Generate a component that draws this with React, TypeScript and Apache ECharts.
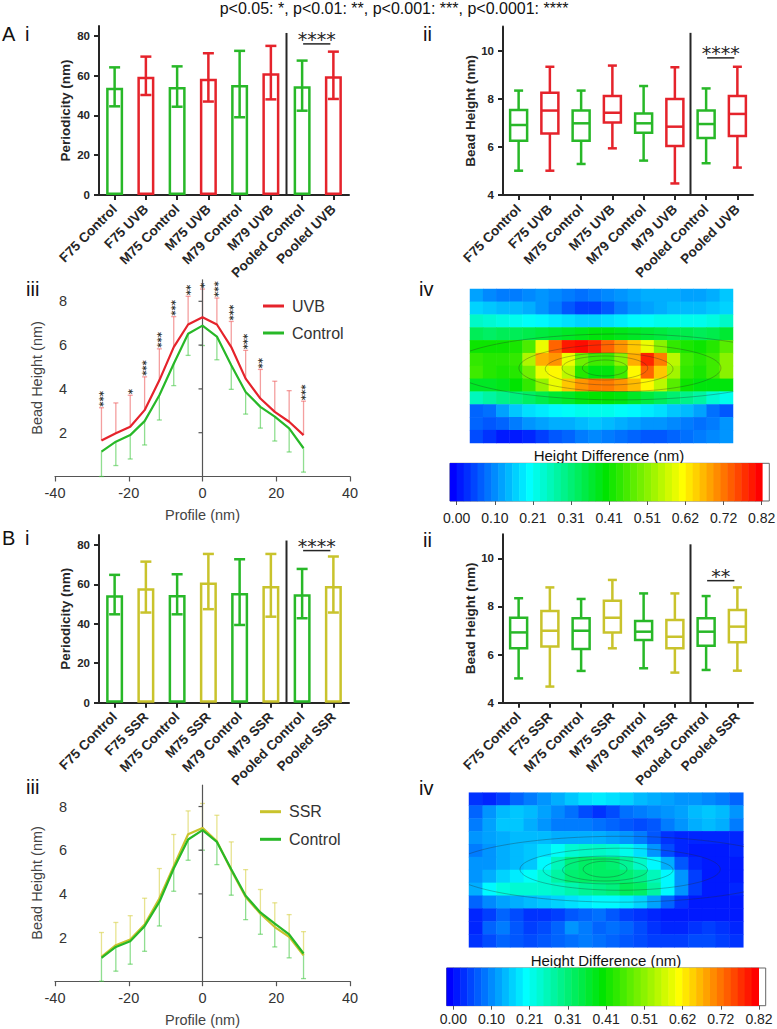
import React, { useEffect, useRef } from 'react';
import * as echarts from 'echarts';

const FONT = '"Liberation Sans", Arial, Helvetica, sans-serif';
const STAR_FONT = '"DejaVu Sans", sans-serif';
const GREEN = '#28b828';
const RED = '#e5232b';
const YELLOW = '#c9c32c';
const AXIS = '#262626';
const HEAT_COLORS = ['#0000ff', '#00ffff', '#00e400', '#ffff00', '#ff0000'];

// ---------- Panel i (periodicity bars) ----------
const uvbCats = ['F75 Control', 'F75 UVB', 'M75 Control', 'M75 UVB', 'M79 Control', 'M79 UVB', 'Pooled Control', 'Pooled UVB'];
const ssrCats = ['F75 Control', 'F75 SSR', 'M75 Control', 'M75 SSR', 'M79 Control', 'M79 SSR', 'Pooled Control', 'Pooled SSR'];
const periodTicks = [0, 20, 40, 60, 80];

const uvbPeriodMean = [54.0, 59.5, 54.3, 58.5, 55.3, 61.2, 54.7, 59.7];
const uvbPeriodHigh = [64.2, 69.6, 64.7, 71.3, 72.5, 75.0, 67.6, 72.1];
const uvbPeriodLow = [44.6, 50.3, 44.4, 47.0, 39.1, 48.1, 42.4, 48.3];

const ssrPeriodMean = [54.5, 58.0, 54.6, 60.9, 55.6, 59.2, 55.0, 59.2];
const ssrPeriodHigh = [64.8, 71.5, 65.1, 75.4, 72.7, 75.4, 67.8, 74.1];
const ssrPeriodLow = [44.8, 45.7, 44.8, 47.4, 39.4, 43.6, 42.8, 45.7];

// separator [leftCat, rightCat, topValue]; significance [fromCat, toCat, value]
const uvbPeriodSep = [5, 6, 81.5];
const uvbPeriodSig = [6, 7, 76.0];
const ssrPeriodSep = [5, 6, 82.2];
const ssrPeriodSig = [6, 7, 77.1];

// ---------- Panel ii (bead height boxes) [min, q1, median, q3, max] ----------
const beadTicks = [4, 6, 8, 10];
const uvbBeadBox = [
  [5.01, 6.26, 6.91, 7.53, 8.34],
  [5.01, 6.56, 7.51, 8.25, 9.33],
  [5.29, 6.26, 6.98, 7.51, 8.34],
  [5.94, 7.01, 7.42, 8.12, 9.38],
  [5.43, 6.59, 6.98, 7.39, 8.53],
  [4.48, 6.04, 6.84, 7.99, 9.31],
  [5.32, 6.37, 6.95, 7.51, 8.43],
  [5.14, 6.45, 7.37, 8.12, 9.33],
];
const ssrBeadBox = [
  [5.01, 6.26, 6.92, 7.53, 8.34],
  [4.67, 6.33, 6.99, 7.81, 8.79],
  [5.32, 6.23, 6.99, 7.51, 8.31],
  [6.26, 6.92, 7.53, 8.24, 9.10],
  [5.43, 6.60, 6.95, 7.39, 8.54],
  [5.25, 6.26, 6.74, 7.44, 8.54],
  [5.36, 6.37, 6.95, 7.51, 8.43],
  [5.33, 6.51, 7.16, 7.85, 8.79],
];
const uvbBeadSep = [5, 6, 10.74];
const uvbBeadSig = [6, 7, 9.70];
const ssrBeadSep = [5, 6, 10.58];
const ssrBeadSig = [6, 7, 9.07];

// ---------- Panel iii (profiles) ----------
const profileTicksY = [2, 4, 6, 8];
const profileZeroLine = [0, 0, 9]; // x, from y, to y
const profileX = [-27.4, -23.5, -19.6, -15.7, -11.7, -7.8, -3.9, 0, 3.9, 7.8, 11.7, 15.7, 19.6, 23.5, 27.4];
const uvbProfile = [1.64, 1.97, 2.27, 3.03, 4.39, 5.91, 6.94, 7.27, 6.94, 5.91, 4.47, 3.56, 2.95, 2.50, 1.89];
const uvbProfileTop = [3.14, 3.36, 3.71, 4.55, 5.83, 7.30, 8.23, 8.56, 8.15, 7.08, 5.76, 4.89, 4.35, 3.92, 3.44];
const ctrlProfileA = [1.14, 1.59, 1.89, 2.53, 3.71, 5.15, 6.52, 6.89, 6.39, 5.08, 3.86, 3.18, 2.73, 2.20, 1.29];
const ctrlProfileALow = [0.0, 0.50, 0.80, 1.44, 2.58, 4.15, 5.53, 5.98, 5.33, 3.98, 2.85, 2.21, 1.62, 1.12, 0.20];
const uvbStars = ['***', '', '*', '***', '***', '***', '**', '*', '***', '***', '***', '**', '', '', '***'];

const ssrProfile = [1.11, 1.65, 1.91, 2.60, 3.79, 5.27, 6.73, 7.02, 6.41, 5.08, 3.86, 3.09, 2.48, 2.03, 1.19];
const ssrProfileTop = [2.23, 2.69, 3.00, 3.80, 5.16, 6.72, 7.80, 8.14, 7.60, 6.38, 5.11, 4.20, 3.59, 3.05, 2.27];
const ctrlProfileB = [1.07, 1.57, 1.83, 2.52, 3.63, 5.16, 6.49, 6.92, 6.38, 5.13, 3.91, 3.15, 2.64, 2.14, 1.27];
const ctrlProfileBLow = [0.0, 0.46, 0.78, 1.37, 2.53, 4.12, 5.54, 6.00, 5.34, 3.94, 2.82, 2.15, 1.57, 1.07, 0.12];
const ssrStars = ['', '', '', '', '', '', '', '', '', '', '', '', '', '', ''];

// ---------- Panel iv (height difference maps, rows top->bottom) ----------
const uvbDiffMap = [
  [0.13, 0.11, 0.10, 0.10, 0.11, 0.12, 0.11, 0.10, 0.09, 0.10, 0.11, 0.12, 0.13, 0.14, 0.14, 0.14, 0.13, 0.13, 0.14, 0.16],
  [0.17, 0.16, 0.15, 0.15, 0.14, 0.12, 0.10, 0.07, 0.05, 0.05, 0.07, 0.10, 0.12, 0.13, 0.14, 0.15, 0.15, 0.15, 0.16, 0.17],
  [0.25, 0.24, 0.23, 0.22, 0.21, 0.20, 0.19, 0.18, 0.17, 0.17, 0.18, 0.19, 0.20, 0.21, 0.22, 0.22, 0.22, 0.22, 0.23, 0.25],
  [0.34, 0.33, 0.34, 0.34, 0.35, 0.36, 0.37, 0.38, 0.39, 0.40, 0.40, 0.39, 0.38, 0.37, 0.36, 0.35, 0.35, 0.34, 0.35, 0.37],
  [0.42, 0.42, 0.42, 0.43, 0.47, 0.60, 0.74, 0.80, 0.81, 0.79, 0.74, 0.70, 0.66, 0.60, 0.52, 0.45, 0.43, 0.42, 0.44, 0.48],
  [0.45, 0.44, 0.44, 0.45, 0.55, 0.68, 0.70, 0.60, 0.50, 0.46, 0.46, 0.52, 0.68, 0.79, 0.72, 0.56, 0.46, 0.44, 0.46, 0.52],
  [0.46, 0.44, 0.43, 0.44, 0.50, 0.60, 0.62, 0.56, 0.44, 0.40, 0.40, 0.46, 0.62, 0.74, 0.66, 0.54, 0.45, 0.43, 0.46, 0.52],
  [0.38, 0.38, 0.39, 0.41, 0.45, 0.53, 0.60, 0.66, 0.70, 0.72, 0.72, 0.70, 0.67, 0.62, 0.56, 0.48, 0.42, 0.40, 0.40, 0.40],
  [0.26, 0.28, 0.30, 0.31, 0.33, 0.35, 0.37, 0.38, 0.40, 0.41, 0.41, 0.40, 0.38, 0.36, 0.34, 0.32, 0.30, 0.28, 0.24, 0.22],
  [0.08, 0.09, 0.13, 0.16, 0.18, 0.19, 0.20, 0.21, 0.22, 0.22, 0.22, 0.21, 0.20, 0.19, 0.18, 0.16, 0.15, 0.13, 0.09, 0.07],
  [0.08, 0.07, 0.08, 0.10, 0.12, 0.13, 0.14, 0.14, 0.15, 0.16, 0.15, 0.14, 0.13, 0.12, 0.12, 0.11, 0.10, 0.09, 0.10, 0.12],
  [0.06, 0.04, 0.02, 0.02, 0.03, 0.05, 0.07, 0.08, 0.10, 0.11, 0.10, 0.09, 0.08, 0.07, 0.07, 0.08, 0.09, 0.10, 0.11, 0.12],
];
const ssrDiffMap = [
  [0.04, 0.03, 0.05, 0.08, 0.10, 0.12, 0.14, 0.16, 0.18, 0.19, 0.18, 0.17, 0.15, 0.14, 0.13, 0.12, 0.12, 0.11, 0.10, 0.08],
  [0.08, 0.12, 0.15, 0.16, 0.15, 0.13, 0.11, 0.09, 0.06, 0.04, 0.06, 0.09, 0.10, 0.11, 0.12, 0.13, 0.15, 0.16, 0.15, 0.12],
  [0.10, 0.13, 0.16, 0.16, 0.14, 0.12, 0.10, 0.10, 0.10, 0.09, 0.08, 0.07, 0.06, 0.07, 0.10, 0.12, 0.14, 0.15, 0.14, 0.10],
  [0.12, 0.13, 0.14, 0.15, 0.15, 0.15, 0.14, 0.14, 0.14, 0.14, 0.13, 0.12, 0.10, 0.07, 0.04, 0.03, 0.03, 0.03, 0.03, 0.03],
  [0.10, 0.12, 0.14, 0.15, 0.16, 0.18, 0.21, 0.24, 0.25, 0.25, 0.24, 0.22, 0.18, 0.12, 0.06, 0.03, 0.02, 0.02, 0.02, 0.03],
  [0.12, 0.12, 0.14, 0.15, 0.16, 0.20, 0.26, 0.31, 0.33, 0.33, 0.32, 0.29, 0.25, 0.20, 0.14, 0.07, 0.03, 0.02, 0.02, 0.02],
  [0.12, 0.14, 0.17, 0.19, 0.21, 0.24, 0.28, 0.32, 0.33, 0.33, 0.33, 0.32, 0.30, 0.26, 0.20, 0.12, 0.05, 0.02, 0.02, 0.02],
  [0.14, 0.20, 0.23, 0.24, 0.24, 0.24, 0.25, 0.27, 0.29, 0.30, 0.31, 0.34, 0.33, 0.28, 0.20, 0.12, 0.05, 0.02, 0.02, 0.03],
  [0.08, 0.11, 0.13, 0.14, 0.15, 0.16, 0.17, 0.18, 0.19, 0.20, 0.20, 0.19, 0.17, 0.13, 0.08, 0.04, 0.02, 0.02, 0.02, 0.02],
  [0.03, 0.05, 0.08, 0.06, 0.04, 0.04, 0.05, 0.07, 0.08, 0.09, 0.07, 0.05, 0.04, 0.03, 0.02, 0.02, 0.02, 0.02, 0.02, 0.02],
  [0.03, 0.08, 0.10, 0.07, 0.05, 0.06, 0.08, 0.12, 0.10, 0.08, 0.09, 0.08, 0.06, 0.04, 0.03, 0.03, 0.04, 0.05, 0.04, 0.03],
  [0.04, 0.06, 0.08, 0.07, 0.06, 0.07, 0.08, 0.09, 0.10, 0.09, 0.08, 0.07, 0.06, 0.05, 0.05, 0.05, 0.06, 0.06, 0.05, 0.04],
];
// bead-shape contours [cx, cy, rx, ry] as fractions of the map
const uvbContours = [
  [0.570, 0.506, 0.650, 0.214],
  [0.570, 0.513, 0.384, 0.153],
  [0.529, 0.519, 0.243, 0.104],
  [0.513, 0.513, 0.163, 0.078],
  [0.513, 0.513, 0.086, 0.052],
];
const ssrContours = [
  [0.551, 0.495, 0.623, 0.213],
  [0.551, 0.495, 0.365, 0.136],
  [0.507, 0.500, 0.237, 0.090],
  [0.496, 0.500, 0.155, 0.071],
  [0.496, 0.495, 0.080, 0.052],
];
const colorBands = [0.000, 0.019, 0.037, 0.056, 0.075, 0.093, 0.112, 0.130, 0.149, 0.168, 0.186, 0.205, 0.224, 0.242, 0.261,
  0.280, 0.298, 0.317, 0.335, 0.354, 0.373, 0.391, 0.410, 0.429, 0.447, 0.466, 0.485, 0.503, 0.522, 0.540, 0.559, 0.578,
  0.596, 0.615, 0.634, 0.652, 0.671, 0.690, 0.708, 0.727, 0.745, 0.764, 0.783, 0.801, 0.820];
const colorTickLabels = ['0.00', '0.10', '0.21', '0.31', '0.41', '0.51', '0.62', '0.72', '0.82'];

function buildOption() {
  const grid: any[] = [];
  const xAxis: any[] = [];
  const yAxis: any[] = [];
  const series: any[] = [];
  const heatIdx: number[] = [];
  const addGrid = (g: any) => { grid.push({ containLabel: false, outerBoundsMode: 'none', ...g }); return grid.length - 1; };
  const addX = (a: any) => { xAxis.push(a); return xAxis.length - 1; };
  const addY = (a: any) => { yAxis.push(a); return yAxis.length - 1; };
  const bold = { fontFamily: FONT, fontWeight: 'bold', color: AXIS };

  const catAxis = (g: number, cats: string[]) => addX({
    type: 'category', gridIndex: g, data: cats,
    axisLine: { show: true, lineStyle: { color: AXIS, width: 2 } },
    axisTick: { show: true, alignWithLabel: true, length: 5, lineStyle: { color: AXIS, width: 2 } },
    axisLabel: { ...bold, fontSize: 13.5, rotate: 45, interval: 0, margin: 12 },
  });
  const valAxis = (g: number, min: number, max: number, ticks: number[], name: string, gap: number) => addY({
    type: 'value', gridIndex: g, min, max, name, nameLocation: 'middle', nameGap: gap,
    nameTextStyle: { ...bold, fontSize: 13.5 },
    axisLine: { show: true, lineStyle: { color: AXIS, width: 2 } },
    axisTick: { show: true, length: 5, lineStyle: { color: AXIS, width: 2 }, customValues: ticks },
    axisLabel: { ...bold, fontSize: 11.5, margin: 9, customValues: ticks },
    splitLine: { show: false },
  });
  const annot = (xi: number, yi: number, base: number, sep: number[], sig: number[], text: string) => ({
    type: 'custom', xAxisIndex: xi, yAxisIndex: yi, silent: true, z: 5, data: [[0, base]],
    renderItem: (_p: any, api: any) => {
      const a = api.coord([sep[0], base]);
      const b = api.coord([sep[1], base]);
      const t = api.coord([sep[0], sep[2]]);
      const xm = (a[0] + b[0]) / 2;
      const s1 = api.coord([sig[0], sig[2]]);
      const s2 = api.coord([sig[1], sig[2]]);
      return {
        type: 'group', children: [
          { type: 'line', shape: { x1: xm, y1: a[1], x2: xm, y2: t[1] }, style: { stroke: AXIS, lineWidth: 2 } },
          { type: 'line', shape: { x1: s1[0] + 1, y1: s1[1], x2: s2[0] - 3, y2: s2[1] }, style: { stroke: AXIS, lineWidth: 1.5 } },
          {
            type: 'text', x: (s1[0] + s2[0]) / 2 - 1, y: s1[1] - 5,
            style: { text, fontFamily: STAR_FONT, fontSize: 19, fill: AXIS, align: 'center', verticalAlign: 'middle', textAlign: 'center', textVerticalAlign: 'middle' },
          },
        ],
      };
    },
  });
  const colorOf = (i: number, treat: string) => (i % 2 === 1 ? treat : GREEN);

  function barPanel(top: number, height: number, cats: string[], mean: number[], low: number[], high: number[], treat: string, sep: number[], sig: number[], sigText: string) {
    const g = addGrid({ left: 99, top, width: 250, height });
    const xi = catAxis(g, cats);
    const yi = valAxis(g, 0, 85, periodTicks, 'Periodicity (nm)', 27);
    series.push({
      type: 'bar', xAxisIndex: xi, yAxisIndex: yi, barWidth: 17, silent: true,
      data: mean.map((v, i) => ({ value: v, itemStyle: { color: '#ffffff', borderColor: colorOf(i, treat), borderWidth: 2.5 } })),
    });
    series.push({
      type: 'custom', xAxisIndex: xi, yAxisIndex: yi, silent: true, z: 4,
      data: low.map((l, i) => [i, l, high[i]]),
      renderItem: (_p: any, api: any) => {
        const i = api.value(0);
        const a = api.coord([i, api.value(1)]);
        const b = api.coord([i, api.value(2)]);
        const st = { stroke: colorOf(i, treat), lineWidth: 2.5 };
        const cw = 5.5;
        return {
          type: 'group', children: [
            { type: 'line', shape: { x1: a[0], y1: a[1], x2: b[0], y2: b[1] }, style: st },
            { type: 'line', shape: { x1: a[0] - cw, y1: a[1], x2: a[0] + cw, y2: a[1] }, style: st },
            { type: 'line', shape: { x1: b[0] - cw, y1: b[1], x2: b[0] + cw, y2: b[1] }, style: st },
          ],
        };
      },
    });
    series.push(annot(xi, yi, 0, sep, sig, sigText));
  }

  function boxPanel(top: number, height: number, cats: string[], boxes: number[][], treat: string, sep: number[], sig: number[], sigText: string) {
    const g = addGrid({ left: 503, top, width: 250, height });
    const xi = catAxis(g, cats);
    const yi = valAxis(g, 4, 11, beadTicks, 'Bead Height (nm)', 26);
    series.push({
      type: 'custom', xAxisIndex: xi, yAxisIndex: yi, silent: true,
      data: boxes.map((b, i) => [i, ...b]),
      renderItem: (_p: any, api: any) => {
        const i = api.value(0);
        const mn = api.coord([i, api.value(1)]);
        const q1 = api.coord([i, api.value(2)]);
        const md = api.coord([i, api.value(3)]);
        const q3 = api.coord([i, api.value(4)]);
        const mx = api.coord([i, api.value(5)]);
        const x = mn[0];
        const hw = 8.5;
        const cw = 4.5;
        const st = { stroke: colorOf(i, treat), lineWidth: 2.5, fill: 'none' };
        return {
          type: 'group', children: [
            { type: 'line', shape: { x1: x, y1: mx[1], x2: x, y2: q3[1] }, style: st },
            { type: 'line', shape: { x1: x, y1: q1[1], x2: x, y2: mn[1] }, style: st },
            { type: 'line', shape: { x1: x - cw, y1: mx[1], x2: x + cw, y2: mx[1] }, style: st },
            { type: 'line', shape: { x1: x - cw, y1: mn[1], x2: x + cw, y2: mn[1] }, style: st },
            { type: 'rect', shape: { x: x - hw, y: q3[1], width: 2 * hw, height: q1[1] - q3[1] }, style: { ...st, fill: '#ffffff' } },
            { type: 'line', shape: { x1: x - hw, y1: md[1], x2: x + hw, y2: md[1] }, style: st },
          ],
        };
      },
    });
    series.push(annot(xi, yi, 4, sep, sig, sigText));
  }

  const errSeries = (xi: number, yi: number, from: number[], to: number[], color: string) => ({
    type: 'custom', xAxisIndex: xi, yAxisIndex: yi, silent: true, z: 1,
    data: profileX.map((x, i) => [x, from[i], to[i]]),
    renderItem: (_p: any, api: any) => {
      const a = api.coord([api.value(0), api.value(1)]);
      const b = api.coord([api.value(0), api.value(2)]);
      const st = { stroke: color, lineWidth: 1.3 };
      return {
        type: 'group', children: [
          { type: 'line', shape: { x1: a[0], y1: a[1], x2: b[0], y2: b[1] }, style: st },
          { type: 'line', shape: { x1: b[0] - 2.5, y1: b[1], x2: b[0] + 2.5, y2: b[1] }, style: st },
        ],
      };
    },
  });

  function profilePanel(top: number, height: number, treatName: string, treat: string, treatErr: string, treatVals: number[], treatTop: number[], ctrl: number[], ctrlLow: number[], stars: string[]) {
    const lbl = { fontFamily: FONT, fontSize: 14.5, color: '#333' };
    // label-only grid: its left edge carries the tick labels and the axis name
    const gl = addGrid({ left: 69, top, width: 280, height });
    addX({ type: 'value', gridIndex: gl, min: -40, max: 40, show: false });
    addY({
      type: 'value', gridIndex: gl, min: 0, max: 9, position: 'left',
      name: 'Bead Height (nm)', nameLocation: 'middle', nameGap: 25, nameTextStyle: { ...lbl, color: '#444' },
      axisLine: { show: false, onZero: false }, axisTick: { show: false },
      axisLabel: { ...lbl, margin: 2, customValues: profileTicksY }, splitLine: { show: false },
    });
    const g = addGrid({ left: 55, top, width: 295, height });
    const xi = addX({
      type: 'value', gridIndex: g, min: -40, max: 40, interval: 20,
      name: 'Profile (nm)', nameLocation: 'middle', nameGap: 31, nameTextStyle: { ...lbl, color: '#444' },
      axisLine: { show: true, onZero: false, lineStyle: { color: '#555', width: 1.2 } },
      axisTick: { show: true, length: 5, lineStyle: { color: '#555', width: 1.2 } },
      axisLabel: { ...lbl, margin: 9 }, splitLine: { show: false },
    });
    const yi = addY({
      type: 'value', gridIndex: g, min: 0, max: 9,
      axisLine: { show: false, onZero: false }, axisTick: { show: false }, axisLabel: { show: false }, splitLine: { show: false },
    });
    // vertical axis line through x = 0 with its ticks
    series.push({
      type: 'custom', xAxisIndex: xi, yAxisIndex: yi, silent: true, z: 2, data: [profileZeroLine],
      renderItem: (_p: any, api: any) => {
        const a = api.coord([api.value(0), api.value(1)]);
        const b = api.coord([api.value(0), api.value(2)]);
        const st = { stroke: '#555', lineWidth: 1.2 };
        const ticks = profileTicksY.map((t) => {
          const p = api.coord([api.value(0), t]);
          return { type: 'line', shape: { x1: p[0] - 4, y1: p[1], x2: p[0], y2: p[1] }, style: st };
        });
        return { type: 'group', children: [{ type: 'line', shape: { x1: a[0], y1: a[1], x2: b[0], y2: b[1] }, style: st }, ...ticks] };
      },
    });
    const ctrlErr = 'rgba(70,200,70,0.6)';
    series.push(errSeries(xi, yi, treatVals, treatTop, treatErr));
    series.push(errSeries(xi, yi, ctrl, ctrlLow, ctrlErr));
    series.push({
      type: 'line', name: treatName, xAxisIndex: xi, yAxisIndex: yi, silent: true, z: 3,
      data: profileX.map((x, i) => [x, treatVals[i]]), symbol: 'none', showSymbol: false,
      color: treat, lineStyle: { color: treat, width: 2.2 }, itemStyle: { color: treat },
    });
    series.push({
      type: 'line', name: 'Control', xAxisIndex: xi, yAxisIndex: yi, silent: true, z: 3,
      data: profileX.map((x, i) => [x, ctrl[i]]), symbol: 'none', showSymbol: false,
      color: GREEN, lineStyle: { color: GREEN, width: 2.2 }, itemStyle: { color: GREEN },
    });
    const starData = profileX.map((x, i) => [x, treatTop[i], i]).filter((d) => stars[d[2]] !== '');
    if (starData.length) {
      series.push({
        type: 'custom', xAxisIndex: xi, yAxisIndex: yi, silent: true, z: 6, data: starData,
        renderItem: (_p: any, api: any) => {
          const c = api.coord([api.value(0), api.value(1)]);
          const s = stars[api.value(2)];
          return {
            type: 'text', x: c[0] + 2, y: c[1] - 1, rotation: Math.PI / 2,
            style: { text: s, fontFamily: STAR_FONT, fontWeight: 'bold', fontSize: 10, fill: '#333', align: 'left', verticalAlign: 'middle', textAlign: 'left', textVerticalAlign: 'middle' },
          };
        },
      });
    }
  }

  function heatPanel(left: number, top: number, width: number, height: number, map: number[][], contours: number[][]) {
    const g = addGrid({ left, top, width, height });
    const xi = addX({ type: 'category', gridIndex: g, data: map[0].map((_v, i) => i), show: false });
    const yi = addY({ type: 'category', gridIndex: g, data: map.map((_r, i) => i), inverse: true, show: false });
    const xv = addX({ type: 'value', gridIndex: g, min: 0, max: 1, show: false });
    const yv = addY({ type: 'value', gridIndex: g, min: 0, max: 1, inverse: true, show: false });
    const data: number[][] = [];
    map.forEach((row, r) => row.forEach((v, c) => data.push([c, r, v])));
    heatIdx.push(series.length);
    series.push({ type: 'heatmap', xAxisIndex: xi, yAxisIndex: yi, data, silent: true, itemStyle: { borderWidth: 0 }, emphasis: { disabled: true } });
    series.push({
      type: 'custom', xAxisIndex: xv, yAxisIndex: yv, silent: true, clip: true, z: 4, data: contours,
      renderItem: (_p: any, api: any) => {
        const c = api.coord([api.value(0), api.value(1)]);
        const s = api.size([api.value(2), api.value(3)]);
        return {
          type: 'ellipse', shape: { cx: c[0], cy: c[1], rx: Math.abs(s[0]), ry: Math.abs(s[1]) },
          style: { fill: 'none', stroke: 'rgba(40,40,40,0.45)', lineWidth: 0.7 },
        };
      },
    });
  }

  function colorBar(left: number, top: number, width: number, height: number, tickLeft: number, tickWidth: number, labelMargin: number) {
    const g = addGrid({ left, top, width, height, show: true, borderColor: '#666', borderWidth: 1, backgroundColor: '#ffffff' });
    const cats = colorBands.map((_v, i) => i).concat([colorBands.length]);
    const xi = addX({ type: 'category', gridIndex: g, data: cats, show: false });
    const yi = addY({ type: 'category', gridIndex: g, data: [0], show: false });
    heatIdx.push(series.length);
    series.push({ type: 'heatmap', xAxisIndex: xi, yAxisIndex: yi, data: colorBands.map((v, i) => [i, 0, v]), silent: true, itemStyle: { borderWidth: 0 }, emphasis: { disabled: true } });
    const g2 = addGrid({ left: tickLeft, top, width: tickWidth, height });
    addX({
      type: 'value', gridIndex: g2, min: 0, max: 8, interval: 1, position: 'bottom',
      axisLine: { show: false }, splitLine: { show: false },
      axisTick: { show: true, length: 4, lineStyle: { color: '#555', width: 1 } },
      axisLabel: { fontFamily: FONT, fontSize: 14, color: '#222', margin: labelMargin, formatter: (v: number) => colorTickLabels[Math.round(v)] ?? '' },
    });
    addY({ type: 'value', gridIndex: g2, min: 0, max: 1, show: false });
  }

  // ----- Section A -----
  barPanel(26, 169, uvbCats, uvbPeriodMean, uvbPeriodLow, uvbPeriodHigh, RED, uvbPeriodSep, uvbPeriodSig, '****');
  boxPanel(26.6, 168.4, uvbCats, uvbBeadBox, RED, uvbBeadSep, uvbBeadSig, '****');
  profilePanel(279.4, 197.1, 'UVB', RED, 'rgba(235,80,80,0.55)', uvbProfile, uvbProfileTop, ctrlProfileA, ctrlProfileALow, uvbStars);
  heatPanel(470, 289, 263, 154, uvbDiffMap, uvbContours);
  colorBar(450, 463.3, 319.3, 37.7, 456.7, 305, 10);
  // ----- Section B -----
  barPanel(535, 167.7, ssrCats, ssrPeriodMean, ssrPeriodLow, ssrPeriodHigh, YELLOW, ssrPeriodSep, ssrPeriodSig, '****');
  boxPanel(534.2, 168.5, ssrCats, ssrBeadBox, YELLOW, ssrBeadSep, ssrBeadSig, '**');
  profilePanel(784.7, 196.5, 'SSR', YELLOW, 'rgba(215,208,70,0.6)', ssrProfile, ssrProfileTop, ctrlProfileB, ctrlProfileBLow, ssrStars);
  heatPanel(469, 792.7, 274.3, 154.6, ssrDiffMap, ssrContours);
  colorBar(446.7, 968, 319, 37.7, 453.3, 305.7, 6);

  const txt = (text: string, x: number, y: number, fontSize: number, extra: any = {}) => ({
    type: 'text', x, y, silent: true,
    style: { text, fontFamily: FONT, fontSize, fill: '#111', align: 'left', verticalAlign: 'middle', textAlign: 'left', textVerticalAlign: 'middle', ...extra },
  });
  const graphic = [
    txt('p<0.05: *, p<0.01: **, p<0.001: ***, p<0.0001: ****', 394, 8, 16, { fontFamily: '"Liberation Sans Narrow", "Liberation Sans", Arial, sans-serif', align: 'center', textAlign: 'center' }),
    txt('A', 2, 34, 20), txt('i', 25, 34, 20), txt('ii', 423, 34, 20), txt('iii', 26, 288.5, 20), txt('iv', 419, 289, 20),
    txt('B', 2, 538, 20), txt('i', 25, 538, 20), txt('ii', 423, 539.5, 20), txt('iii', 26, 787, 20), txt('iv', 419, 788, 20),
    txt('Height Difference (nm)', 609, 455, 15, { align: 'center', textAlign: 'center' }),
    txt('Height Difference (nm)', 606, 960, 15, { align: 'center', textAlign: 'center' }),
  ];

  const legendBase = {
    orient: 'vertical', padding: 0, itemWidth: 21, itemHeight: 3, icon: 'rect', selectedMode: false,
    textStyle: { fontFamily: FONT, fontSize: 16, color: '#333', padding: [0, 0, 0, 3] },
  };

  return {
    animation: false,
    backgroundColor: '#ffffff',
    grid, xAxis, yAxis, series, graphic,
    legend: [
      { ...legendBase, left: 263, top: 298, itemGap: 11, data: ['UVB', 'Control'] },
      { ...legendBase, left: 260, top: 803.7, itemGap: 11.6, data: ['SSR', 'Control'] },
    ],
    visualMap: {
      type: 'continuous', show: false, min: 0, max: 0.82, seriesIndex: heatIdx,
      inRange: { color: HEAT_COLORS },
    },
  };
}

export default function App() {
  const ref = useRef<HTMLDivElement>(null);
  useEffect(() => {
    const chart = echarts.init(ref.current as HTMLDivElement, undefined, { renderer: 'svg' });
    chart.setOption(buildOption() as any);
    return () => chart.dispose();
  }, []);
  return <div ref={ref} style={{ position: 'absolute', left: 0, top: 0, width: 777, height: 1029, background: '#fff' }} />;
}
